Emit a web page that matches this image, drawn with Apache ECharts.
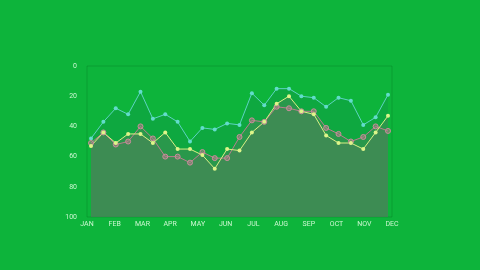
<!DOCTYPE html>
<html lang="en">
<head>
    <meta charset="UTF-8">
    <script src="https://cdn.jsdelivr.net/npm/echarts@6/dist/echarts.min.js"></script>
    <style>html,body{margin:0;padding:0;background:#0db43b;}</style>
</head>
<body>
<div id="main" style="width:480px;height:270px;"></div>
<script type="text/javascript">
    // 月份标签
    var months = ['JAN','FEB','MAR','APR','MAY','JUN','JUL','AUG','SEP','OCT','NOV','DEC'];
    var yTicks = [0, 20, 40, 60, 80, 100];
    // 数据点（每月约两个）
    var points = ['p1','p2','p3','p4','p5','p6','p7','p8','p9','p10','p11','p12','p13',
                  'p14','p15','p16','p17','p18','p19','p20','p21','p22','p23','p24','p25'];
    var cyanData = [48, 37, 28, 32, 17, 35, 32, 37, 50, 41, 42, 38, 39,
                    18, 26, 15, 15, 20, 21, 27, 21, 23, 39, 34, 19];
    var pinkData = [51, 44, 52, 50, 40, 48, 60, 60, 64, 57, 61, 61, 47,
                    36, 37, 27, 28, 30, 30, 41, 45, 50, 47, 40, 43];
    var yellowData = [53, 44, 51, 45, 45, 51, 44, 55, 55, 59, 68, 55, 56,
                      44, 37, 25, 20, 30, 32, 46, 51, 51, 55, 44, 33];

    var myChart = echarts.init(document.getElementById('main'));
    var labelColor = 'rgba(225,255,225,0.9)';

    var option = {
        backgroundColor: '#0db43b',
        animation: false,
        grid: [
            {left: 87, right: 88, top: 66, bottom: 53, show: true,
             borderColor: 'rgba(0,110,30,0.3)', borderWidth: 1, backgroundColor: 'transparent'},
            {left: 91, right: 92, top: 66, bottom: 53}
        ],
        xAxis: [
            {
                gridIndex: 0,
                type: 'category',
                boundaryGap: false,
                data: months,
                axisLine: {show: false},
                axisTick: {show: false},
                axisLabel: {color: labelColor, fontSize: 7, margin: 4, fontFamily: 'Liberation Sans Narrow, Roboto, sans-serif'}
            },
            {
                gridIndex: 1,
                type: 'category',
                boundaryGap: false,
                data: points,
                show: false
            }
        ],
        yAxis: [
            {
                gridIndex: 0,
                type: 'value',
                inverse: true,
                min: yTicks[0],
                max: yTicks[yTicks.length - 1],
                interval: 20,
                splitLine: {show: false},
                axisLine: {show: false},
                axisTick: {show: false},
                axisLabel: {color: labelColor, fontSize: 7, margin: 10, fontFamily: 'Roboto, sans-serif'}
            },
            {
                gridIndex: 1,
                type: 'value',
                inverse: true,
                min: 0,
                max: 100,
                show: false
            }
        ],
        series: [
            {
                name: 'cyan',
                type: 'line',
                xAxisIndex: 1,
                yAxisIndex: 1,
                data: cyanData,
                symbol: 'circle',
                symbolSize: 4,
                itemStyle: {color: '#62dccb'},
                lineStyle: {color: '#5ed3c3', width: 1},
                areaStyle: {color: 'rgba(20,100,100,0.2)', origin: 'end'}
            },
            {
                name: 'pink',
                type: 'line',
                xAxisIndex: 1,
                yAxisIndex: 1,
                data: pinkData,
                symbol: 'circle',
                symbolSize: 5,
                itemStyle: {color: 'rgba(175,125,135,0.55)', borderColor: '#c98f9c', borderWidth: 1},
                lineStyle: {color: '#b8808f', width: 1},
                areaStyle: {color: 'rgba(120,110,110,0.37)', origin: 'end'}
            },
            {
                name: 'yellow',
                type: 'line',
                xAxisIndex: 1,
                yAxisIndex: 1,
                data: yellowData,
                symbol: 'circle',
                symbolSize: 4,
                itemStyle: {color: '#def58a'},
                lineStyle: {color: '#dcef86', width: 1},
                areaStyle: {color: 'rgba(120,110,110,0.37)', origin: 'end'}
            }
        ]
    };

    myChart.setOption(option);
</script>
</body>
</html>
